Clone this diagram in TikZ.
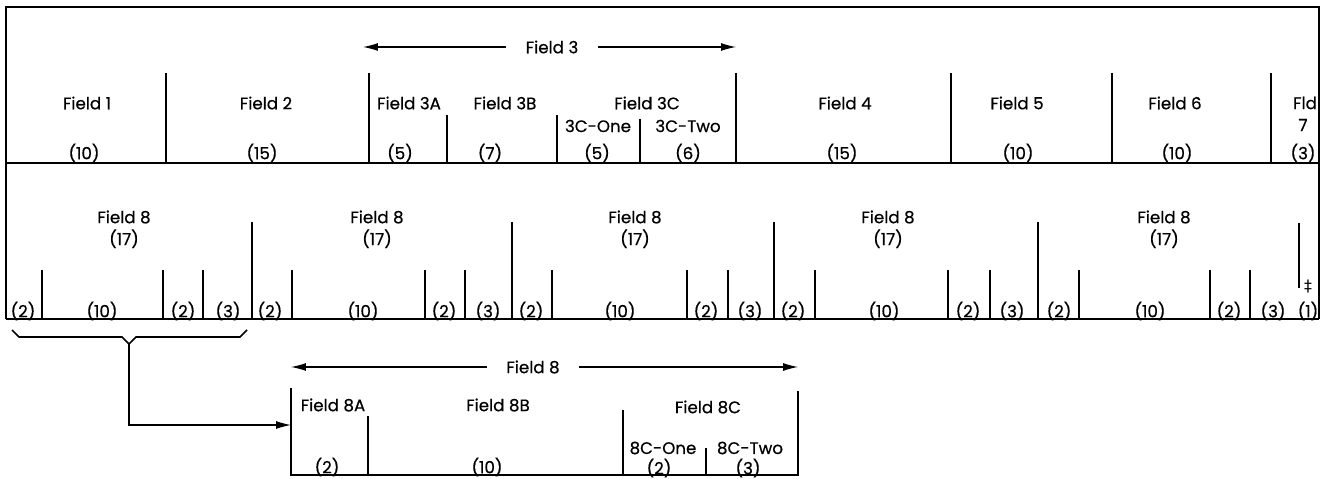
\documentclass[tikz,border=0pt]{standalone}
\usepackage{fontspec}
\setmainfont{Poppins}[FakeBold=0.5]
\newfontfamily\symfont{DejaVu Sans}
\usetikzlibrary{arrows.meta,positioning}

\begin{document}
\begin{tikzpicture}[x=0.02cm, y=-0.02cm,
  lbl/.style={inner sep=0pt, font=\fontsize{9.5}{11}\selectfont},
  spanlbl/.style={lbl, inner xsep=11pt},
  rule/.style={line width=1.1pt},
  frame/.style={line width=0.9pt},
  span/.style={line width=0.6pt, -{Latex[length=8.5pt,width=4.5pt]}}]
\useasboundingbox (0,0) rectangle (1327,479);

% record outline and the two card rows
\draw[frame] (6,319) -- (6,7) -- (1319,7) -- (1319,319);
\draw[rule] (6,163) -- (1319,163);
\draw[rule] (6,319) -- (1319,319);

% row 1 dividers
\foreach \x/\t in {166/73,369/73,447/115,557/115,640/119,736/73,951/73,1112/73,1271/73}
  \draw[rule] (\x,\t) -- (\x,163);

% row 1 texts
\node[lbl] (f1) at (87,103) {Field 1};
\node[lbl] (n1) at (84,153) {(10)};
\node[lbl] (f2) at (266,103) {Field 2};
\node[lbl] (n2) at (262,153) {(15)};
\node[lbl] (f3a) at (409,103) {Field 3A};
\node[lbl] (n3a) at (400,153) {(5)};
\node[lbl] (f3b) at (505,103) {Field 3B};
\node[lbl] (n3b) at (490,153) {(7)};
\node[lbl] (f3c) at (647,103) {Field 3C};
\node[lbl] (c3one) at (598,126) {3C-One};
\node[lbl] (n3c1) at (597,153) {(5)};
\node[lbl] (c3two) at (688,126) {3C-Two};
\node[lbl] (n3c2) at (688,153) {(6)};
\node[lbl] (f4) at (845,103) {Field 4};
\node[lbl] (n4) at (842,153) {(15)};
\node[lbl] (f5) at (1017,103) {Field 5};
\node[lbl] (n5) at (1018,153) {(10)};
\node[lbl] (f6) at (1175,103) {Field 6};
\node[lbl] (n6) at (1177,153) {(10)};
\node[lbl] (f7) at (1305,103) {Fld};
\node[lbl] (f7b) at (1303,125) {7};
\node[lbl] (n7) at (1303,153) {(3)};

% span of field 3
\node[spanlbl] (f3) at (552,47) {Field 3};
\coordinate (f3l) at (363,47);
\coordinate (f3r) at (736,47);
\draw[span] (f3) -- (f3l);
\draw[span] (f3) -- (f3r);

% row 2: five occurrences of field 8
\foreach \x in {252,512,774,1038}
  \draw[rule] (\x,222) -- (\x,319);
\foreach \x in {42,163,203,292,425,465,552,687,728,815,948,990,1079,1210,1250}
  \draw[rule] (\x,270) -- (\x,319);
\draw[rule] (1299,223) -- (1299,288);
\node[lbl, font=\symfont\fontsize{9}{10}\selectfont] (dd) at (1308,286) {‡};

\foreach \x [count=\i] in {124,377,635,888,1164} {
  \node[lbl] (g\i) at (\x,217) {Field 8};
  \node[lbl, below=3pt of g\i] (s\i) {(17)};
}
\foreach \x/\s [count=\i] in {23/2,102/10,183/2,228/3,
    270/2,363/10,444/2,488/3,
    531/2,620/10,706/2,750/3,
    793/2,884/10,968/2,1012/3,
    1059/2,1150/10,1229/2,1273/3,1308/1}
  \node[lbl] (r\i) at (\x,311) {(\s)};

% brace under the first field 8
\coordinate (tip) at (129,344);
\draw[frame] (12,330) -- (19,337) -- (122,337) -- (tip) -- (136,337) -- (240,337) -- (247,330);

% expanded field 8
\coordinate (b8) at (291,425);
\draw[span] (tip) |- (b8);
\draw[rule] (291,388) -- (291,475) -- (798,475) -- (798,391);
\foreach \x/\t in {368/416,623/410,706/448}
  \draw[rule] (\x,\t) -- (\x,475);

\node[lbl] (e8a) at (333,405) {Field 8A};
\node[lbl] (m8a) at (327,467) {(2)};
\node[lbl] (e8b) at (498,405) {Field 8B};
\node[lbl] (m8b) at (487,467) {(10)};
\node[lbl] (e8c) at (708,407) {Field 8C};
\node[lbl] (c8one) at (663,448) {8C-One};
\node[lbl] (m8c1) at (659,468) {(2)};
\node[lbl] (c8two) at (750,448) {8C-Two};
\node[lbl] (m8c2) at (748,468) {(3)};

% span of field 8
\node[spanlbl] (f8) at (533,367) {Field 8};
\coordinate (f8l) at (291,367);
\coordinate (f8r) at (798,367);
\draw[span] (f8) -- (f8l);
\draw[span] (f8) -- (f8r);
\end{tikzpicture}
\end{document}
